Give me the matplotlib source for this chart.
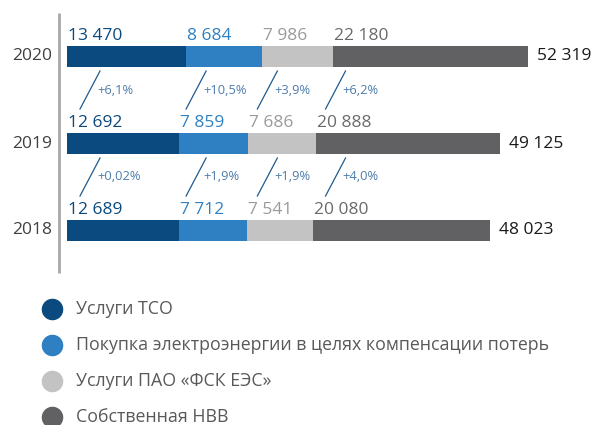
import matplotlib
matplotlib.use("Agg")
import matplotlib.pyplot as plt
import numpy as np
from matplotlib.transforms import offset_copy

plt.rcParams["font.family"] = ["Open Sans", "DejaVu Sans"]

YEARS = ["2018", "2019", "2020"]
SERIES = [
    "Услуги ТСО",
    "Покупка электроэнергии в целях компенсации потерь",
    "Услуги ПАО «ФСК ЕЭС»",
    "Собственная НВВ",
]
TSO = [12689, 12692, 13470]
LOSSES = [7712, 7859, 8684]
FSK = [7541, 7686, 7986]
OWN = [20080, 20888, 22180]
TOTALS = [48023, 49125, 52319]
# growth 2018->2019 and 2019->2020, per series
GROWTH_19 = ["+0,02%", "+1,9%", "+1,9%", "+4,0%"]
GROWTH_20 = ["+6,1%", "+10,5%", "+3,9%", "+6,2%"]

BAR_COLORS = ["#0b4a7e", "#2f80c3", "#c3c3c3", "#616163"]
LABEL_COLORS = ["#0b4a7e", "#2f80c3", "#9a9a9a", "#6a6a6a"]
PCT_COLOR = "#4d7cab"
LINE_COLOR = "#1f5a8f"


def fmt(v):
    return f"{v:,}".replace(",", " ")


W, H = 593, 425
fig = plt.figure(figsize=(W / 100, H / 100), dpi=100)
ax = fig.add_axes([0, 0, 1, 1])
ax.set_axis_off()

# pixel mapping: x=67px -> 0, 2020 total ends at 528px
upx = TOTALS[2] / (528 - 67)
ax.set_xlim(-67 * upx, (W - 67) * upx)
row_px = 87.0
ypx0 = 230.5  # 2018 bar centre in pixels from top
ax.set_ylim((ypx0 - H) / row_px, ypx0 / row_px)
bar_h = 21 / row_px

data = np.array([TSO, LOSSES, FSK, OWN])
y = np.arange(len(YEARS))
left = np.zeros(len(YEARS))
starts = []
for k in range(len(SERIES)):
    ax.barh(y, data[k], left=left, height=bar_h, color=BAR_COLORS[k], linewidth=0)
    starts.append(left.copy())
    lab_tr = offset_copy(ax.transData, fig=fig, x=1, y=6, units="dots")
    for i in range(len(YEARS)):
        ax.text(left[i], y[i] + bar_h / 2, fmt(int(data[k][i])), transform=lab_tr,
                ha="left", va="baseline", fontsize=12.5, color=LABEL_COLORS[k])
    left = left + data[k]

tot_tr = offset_copy(ax.transData, fig=fig, x=9, y=0, units="dots")
for i in range(len(YEARS)):
    ax.text(left[i], y[i], fmt(TOTALS[i]), transform=tot_tr, ha="left", va="center",
            fontsize=12.5, color="#1a1a1a")

yr_tr = offset_copy(ax.transData, fig=fig, x=-15, y=0, units="dots")
for i in range(len(YEARS)):
    ax.text(0, y[i], YEARS[i], transform=yr_tr, ha="right", va="center",
            fontsize=12.5, color="#404040")

# vertical axis line
ax.plot([-8 * upx, -8 * upx], [(ypx0 - 13) / row_px, (ypx0 - 273) / row_px],
        color="#a8a8a8", lw=2, solid_capstyle="butt")

# growth annotations between rows (sit a bit above the midpoint, below the labels)
lift = 10 / row_px
for k in range(len(SERIES)):
    xs = np.mean(starts[k])
    xb = max(xs + 5 * upx, 13 * upx)
    for gap, labels in ((1.5, GROWTH_20), (0.5, GROWTH_19)):
        gy = gap + lift
        y0 = gy - 19 / row_px
        y1 = gy + 19 / row_px
        ax.plot([xb, xb + 20 * upx], [y0, y1], color=LINE_COLOR, lw=0.9)
        ax.text(xb + 17 * upx, gy, labels[k], ha="left", va="center",
                fontsize=9.3, color=PCT_COLOR)

# legend
for k, name in enumerate(SERIES):
    yy = 1 - (308.5 + 36.3 * k) / H
    fig.lines.append(plt.Line2D([52 / W], [yy], marker="o", markersize=14.5,
                                color=BAR_COLORS[k], linestyle="none",
                                transform=fig.transFigure))
    fig.text(76 / W, yy, name, ha="left", va="center", fontsize=12.8, color="#595959")

fig.savefig("out.png", dpi=100)
